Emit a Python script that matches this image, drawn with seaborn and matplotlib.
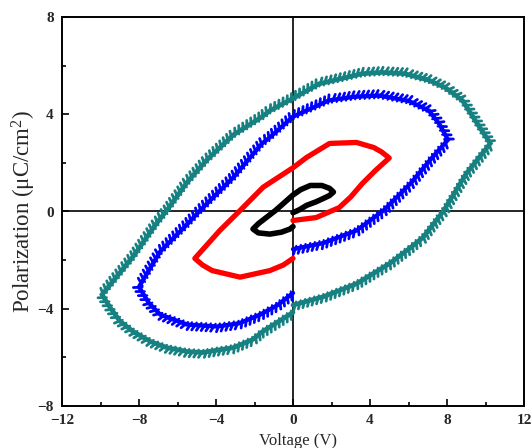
import matplotlib
matplotlib.use("Agg")
import matplotlib.pyplot as plt
import matplotlib.patheffects as pe
from matplotlib.ticker import MultipleLocator
import seaborn as sns
import pandas as pd

# P-E hysteresis loops, each traced 0 -> +Vmax -> -Vmax -> 0
teal_v = [0.0, 1.6, 3.3, 5.0, 6.0, 6.75, 7.8, 9.0, 10.25,
          9.7, 8.8, 7.9, 7.06, 5.8, 4.6, 3.6, 2.7, 1.35, 0.0, -1.2, -1.6,
          -3.1, -4.5, -5.5, -6.5, -7.1, -8.3, -9.92,
          -9.5, -9.0, -8.3, -7.4, -6.55, -5.5, -4.7, -3.1, -2.1, -1.6, -1.2, -0.6, 0.0]
teal_p = [-3.85, -3.5, -2.97, -2.15, -1.55, -1.07, 0.0, 1.56, 2.8,
          3.46, 4.57, 5.1, 5.4, 5.67, 5.72, 5.67, 5.5, 5.25, 4.65, 4.15, 3.9,
          3.15, 2.1, 1.2, 0.1, -0.5, -1.85, -3.42,
          -3.95, -4.5, -4.94, -5.35, -5.6, -5.76, -5.8, -5.6, -5.27, -4.95, -4.75, -4.45, -4.15]

blue_v = [0.0, 1.56, 3.3, 4.7, 6.1, 7.1, 8.05,
          7.6, 7.06, 6.0, 4.47, 3.2, 1.87, 0.0, -1.2, -1.6, -3.1, -4.83, -5.5, -6.9, -8.0,
          -7.5, -6.9, -5.5, -3.95, -2.8, -1.7, -0.8, 0.0]
blue_p = [-1.55, -1.3, -0.78, 0.04, 1.15, 2.1, 2.95,
          3.6, 4.15, 4.55, 4.77, 4.72, 4.57, 3.9, 3.05, 2.8, 1.4, 0.04, -0.53, -1.65, -3.1,
          -3.75, -4.24, -4.65, -4.73, -4.6, -4.24, -3.85, -3.35]

red_v = [0.0, 1.2, 2.4, 3.0, 3.6, 4.3, 5.0,
         4.6, 4.2, 3.3, 1.9, 0.7, 0.0, -1.55, -2.75, -3.8, -5.1,
         -4.7, -4.2, -2.75, -1.2, -0.5, 0.0]
red_p = [-0.37, -0.25, 0.16, 0.6, 1.15, 1.7, 2.2,
         2.45, 2.63, 2.84, 2.8, 2.22, 1.8, 1.0, 0.04, -0.78, -1.93,
         -2.2, -2.43, -2.7, -2.43, -2.2, -1.93]

black_v = [0.0, 0.35, 0.7, 1.2, 1.56, 1.9, 2.1,
           1.9, 1.5, 0.9, 0.4, 0.0, -0.9, -1.8, -2.08,
           -1.8, -1.2, -0.6, -0.15, 0.0]
black_p = [-0.05, 0.08, 0.25, 0.4, 0.53, 0.66, 0.8,
           0.95, 1.07, 1.07, 0.9, 0.68, 0.05, -0.5, -0.72,
           -0.88, -0.93, -0.85, -0.72, -0.62]

x_ticks = [-12, -8, -4, 0, 4, 8, 12]
y_ticks = [-8, -4, 0, 4, 8]

sns.set_style("ticks")
plt.rcParams["font.family"] = ["Liberation Serif", "DejaVu Serif"]
plt.rcParams["mathtext.fontset"] = "custom"
plt.rcParams["mathtext.rm"] = "Liberation Serif"
plt.rcParams["mathtext.it"] = "Liberation Serif:italic"
plt.rcParams["mathtext.default"] = "regular"

fig = plt.figure(figsize=(5.32, 4.48), dpi=100)
ax = fig.add_axes([62 / 532, 1 - 406 / 448, 462 / 532, 389 / 448])
ax.set_facecolor("white")

ax.axhline(0, color="black", lw=1.2, zorder=1)
ax.axvline(0, color="black", lw=1.2, zorder=1)

# (x, y, colour, width, joinstyle, serrated edge)
loops = [
    (teal_v, teal_p, "#178080", 3.4, "miter", True),
    (blue_v, blue_p, "#0000ff", 3.1, "miter", True),
    (red_v, red_p, "#ff0000", 3.8, "round", False),
    (black_v, black_p, "#000000", 4.0, "round", False),
]
for v, p, color, lw, join, serrated in loops:
    df = pd.DataFrame({"V": v, "P": p})
    sns.lineplot(data=df, x="V", y="P", sort=False, estimator=None,
                 color=color, linewidth=lw, ax=ax, zorder=3)
    line = ax.lines[-1]
    line.set_solid_joinstyle(join)
    line.set_solid_capstyle("round")
    if serrated:
        # saw-tooth edge imitating densely packed triangle markers
        line.set_path_effects([
            pe.TickedStroke(spacing=3.4, angle=-120, length=1.25,
                            linewidth=2.0, foreground=color),
            pe.TickedStroke(spacing=3.4, angle=60, length=0.65,
                            linewidth=1.5, foreground=color),
            pe.Normal(),
        ])

ax.set_xlim(-12, 12)
ax.set_ylim(-8, 8)
ax.set_xticks(x_ticks)
ax.set_yticks(y_ticks)
ax.xaxis.set_minor_locator(MultipleLocator(2))
ax.yaxis.set_minor_locator(MultipleLocator(2))
ax.tick_params(which="both", direction="in", top=False, right=False,
               width=1.2, color="black")
ax.tick_params(which="major", length=5, pad=6)
ax.tick_params(which="minor", length=3)
for lab in ax.get_xticklabels() + ax.get_yticklabels():
    lab.set_fontweight("bold")
    lab.set_fontsize(11)
for s in ax.spines.values():
    s.set_linewidth(1.4)
    s.set_color("black")

ax.set_xlabel("Voltage (V)", fontsize=12, va="top")
ax.xaxis.set_label_coords(0.51, -0.069)
ax.set_ylabel("Polarization (μC/cm$^{2}$)", fontsize=16.5)
ax.yaxis.set_label_coords(-0.052, 0.5)

fig.savefig("out.png", dpi=100)
